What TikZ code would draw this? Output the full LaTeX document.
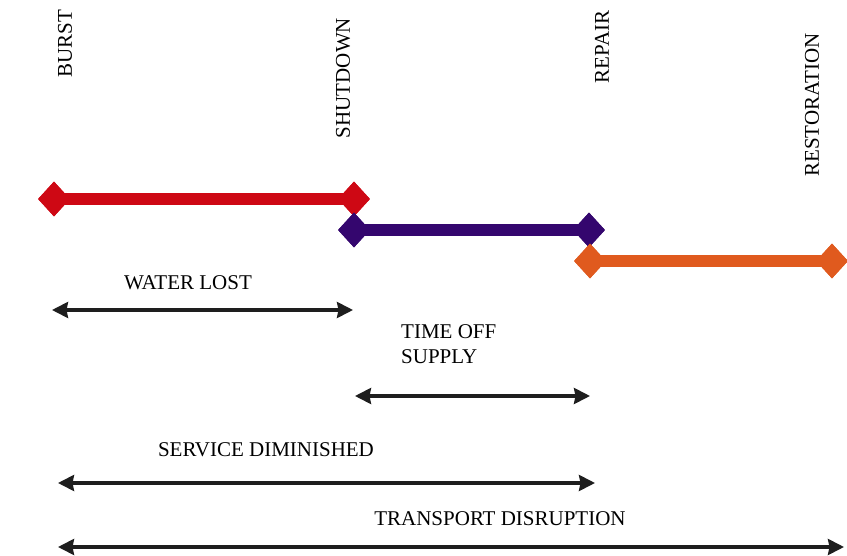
\documentclass[tikz,border=0pt]{standalone}
\usepackage{fontspec}
\setmainfont{Liberation Serif}
\usetikzlibrary{shapes.geometric,arrows.meta}

\definecolor{burstred}{RGB}{206,8,20}
\definecolor{shutpurple}{RGB}{52,6,110}
\definecolor{repairorange}{RGB}{224,90,30}
\definecolor{spanink}{RGB}{30,30,30}

\tikzset{
  event/.style={font=\fontsize{21}{25}\selectfont, inner sep=0pt, rotate=90},
  label/.style={font=\fontsize{21}{25}\selectfont, inner sep=0pt},
  marker/.style={diamond, draw=none, fill=#1, minimum width=32pt, minimum height=35pt, inner sep=0pt},
  phase/.style={line width=12pt, draw=#1},
  span/.style={line width=3.2pt, draw=spanink, {Stealth[length=16pt,width=16pt,inset=1.5pt]}-{Stealth[length=16pt,width=16pt,inset=1.5pt]}}
}

\begin{document}
\begin{tikzpicture}[x=1pt, y=-1pt]
  \useasboundingbox (0,0) rectangle (847,556);

  % event names along the top
  \node[event] (burst) at (65,44) {BURST};
  \node[event] (shutdown) at (343,78) {SHUTDOWN};
  \node[event] (repair) at (602,47) {REPAIR};
  \node[event] (restoration) at (812,105) {RESTORATION};

  % burst to shutdown
  \node[marker=burstred] (r1) at (54,199) {};
  \node[marker=burstred] (r2) at (354,199) {};
  \draw[phase=burstred] (r1.center) -- (r2.center);
  \node[marker=burstred] at (r1) {};
  \node[marker=burstred] at (r2) {};

  % shutdown to repair
  \node[marker=shutpurple] (p1) at (354,230) {};
  \node[marker=shutpurple] (p2) at (589,230) {};
  \draw[phase=shutpurple] (p1.center) -- (p2.center);
  \node[marker=shutpurple] at (p1) {};
  \node[marker=shutpurple] at (p2) {};

  % repair to restoration
  \node[marker=repairorange] (o1) at (590,261) {};
  \node[marker=repairorange] (o2) at (832,261) {};
  \draw[phase=repairorange] (o1.center) -- (o2.center);
  \node[marker=repairorange] at (o1) {};
  \node[marker=repairorange] at (o2) {};

  % durations
  \node[label] (lost) at (188,283) {WATER LOST};
  \coordinate (lostA) at (52,310);
  \coordinate (lostB) at (353,310);
  \draw[span] (lostA) -- (lostB);

  \node[label, anchor=west, align=left] (offsupply) at (401,344) {TIME OFF\\SUPPLY};
  \coordinate (offA) at (355,396);
  \coordinate (offB) at (590,396);
  \draw[span] (offA) -- (offB);

  \node[label] (diminished) at (266,450) {SERVICE DIMINISHED};
  \coordinate (dimA) at (58,483);
  \coordinate (dimB) at (595,483);
  \draw[span] (dimA) -- (dimB);

  \node[label] (transport) at (500,519) {TRANSPORT DISRUPTION};
  \coordinate (trA) at (58,547);
  \coordinate (trB) at (844,547);
  \draw[span] (trA) -- (trB);
\end{tikzpicture}
\end{document}
